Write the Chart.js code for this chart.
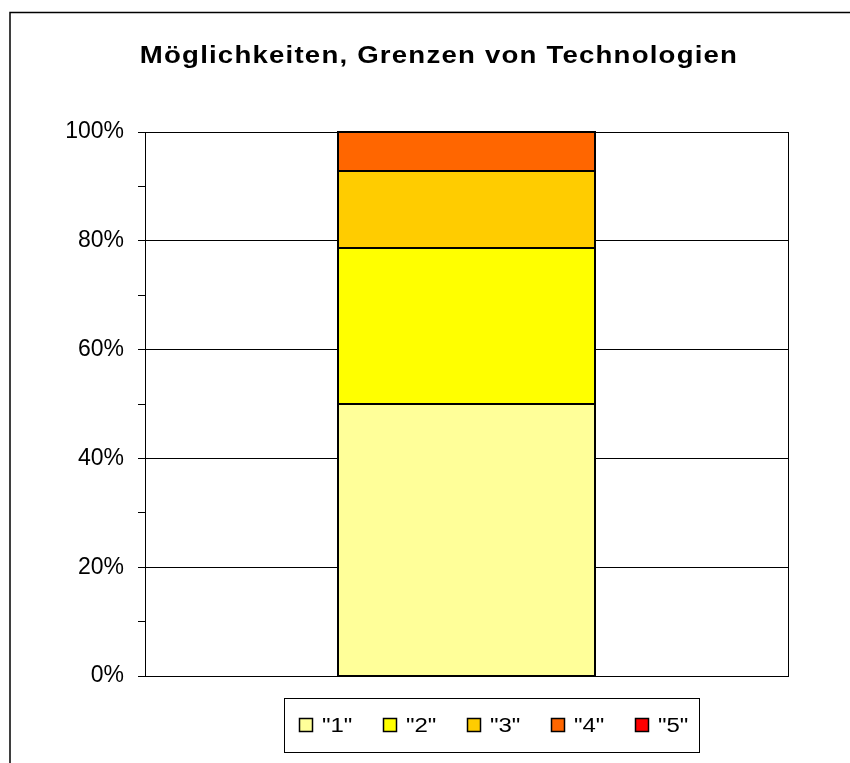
<!DOCTYPE html>
<html>
<head>
<meta charset="utf-8">
<script src="https://cdn.jsdelivr.net/npm/chart.js@4/dist/chart.umd.min.js"></script>
<style>
  html, body { margin: 0; padding: 0; background: #fff; }
  canvas { display: block; }
</style>
</head>
<body>
<canvas id="chart" width="850" height="763"></canvas>
<script>
// === Data ===
const chartTitle = "Möglichkeiten, Grenzen von Technologien";
const categories = [""];
const seriesLabels = ['"1"', '"2"', '"3"', '"4"', '"5"'];
const seriesValues = [50, 28.6, 14.3, 7.1, 0];   // percent share of the single bar
const seriesColors = ["#FFFF99", "#FFFF00", "#FFCC00", "#FF6600", "#FF0000"];
const yTicks = [0, 20, 40, 60, 80, 100];

const fontFamily = "'Liberation Sans', Arial, sans-serif";
const stretchX = 1.2;   // the original text is a bit wider than plain Arial

// draws text slightly widened around its anchor point
function wideText(ctx, text, x, y, align) {
    ctx.save();
    ctx.translate(x, y);
    ctx.scale(stretchX, 1);
    ctx.textAlign = align;
    ctx.fillText(text, 0, 0);
    ctx.restore();
}

// crisp black outlines on the stacked segments (snapped to whole pixels)
const outlinePlugin = {
    id: "outline",
    afterDatasetsDraw(chart) {
        const ctx = chart.ctx;
        ctx.save();
        ctx.strokeStyle = "#000";
        ctx.lineWidth = 2;
        chart.data.datasets.forEach((ds, i) => {
            chart.getDatasetMeta(i).data.forEach(bar => {
                if (Math.abs(bar.base - bar.y) < 0.5) return;
                const l = Math.round(bar.x - bar.width / 2);
                const r = Math.round(bar.x + bar.width / 2);
                const t = Math.round(bar.y);
                const b = Math.round(bar.base);
                ctx.strokeRect(l, t, r - l, b - t);
            });
        });
        ctx.restore();
    }
};

// outer frame, plot border, title and boxed legend
const decorPlugin = {
    id: "decor",
    beforeDraw(chart) {
        const ctx = chart.ctx;
        ctx.save();
        ctx.fillStyle = "#fff";
        ctx.fillRect(0, 0, chart.width, chart.height);
        ctx.strokeStyle = "#000";
        ctx.lineWidth = 1.5;
        ctx.strokeRect(10, 12.5, chart.width + 20, chart.height + 20);
        ctx.restore();
    },
    afterDraw(chart) {
        const ctx = chart.ctx;
        const a = chart.chartArea;
        ctx.save();
        ctx.strokeStyle = "#000";
        ctx.lineWidth = 1;
        ctx.strokeRect(Math.round(a.left) + 0.5, Math.round(a.top) + 0.5,
            Math.round(a.right - a.left), Math.round(a.bottom - a.top));

        // title
        ctx.fillStyle = "#000";
        ctx.font = "bold 23px " + fontFamily;
        ctx.letterSpacing = "1px";
        ctx.textBaseline = "alphabetic";
        wideText(ctx, chartTitle, 439, 63, "center");
        ctx.letterSpacing = "0px";

        // legend
        ctx.lineWidth = 1;
        ctx.strokeRect(284.5, 698.5, 415, 54);
        ctx.font = "20px " + fontFamily;
        seriesLabels.forEach((lab, i) => {
            const x = 299 + i * 84;
            ctx.fillStyle = seriesColors[i];
            ctx.fillRect(x, 718, 14, 14);
            ctx.strokeStyle = "#000";
            ctx.lineWidth = 1.5;
            ctx.strokeRect(x + 0.5, 718.5, 13, 13);
            ctx.fillStyle = "#000";
            wideText(ctx, lab, x + 23, 732, "left");
        });
        ctx.restore();
    }
};

const datasets = seriesLabels.map((lab, i) => ({
    label: lab,
    data: [seriesValues[i]],
    backgroundColor: seriesColors[i],
    borderWidth: 0,
    barPercentage: 0.4,
    categoryPercentage: 1.0
}));

new Chart(document.getElementById("chart"), {
    type: "bar",
    data: { labels: categories, datasets: datasets },
    plugins: [decorPlugin, outlinePlugin],
    options: {
        responsive: false,
        animation: false,
        layout: { padding: { left: 10, top: 132, right: 62, bottom: 87 } },
        scales: {
            x: { stacked: true, display: false },
            y: {
                stacked: true,
                min: 0,
                max: 100,
                afterFit: scale => { scale.width = 135; },
                ticks: {
                    stepSize: 10,
                    autoSkip: false,
                    padding: 14,
                    color: "#000",
                    font: { family: fontFamily, size: 23 },
                    callback: v => yTicks.includes(v) ? v + "%" : ""
                },
                grid: {
                    color: c => (c.tick && yTicks.includes(c.tick.value)) ? "#000" : "rgba(0,0,0,0)",
                    tickColor: "#000",
                    tickLength: 7,
                    lineWidth: 1
                },
                border: { display: true, color: "#000", width: 1 }
            }
        },
        plugins: {
            legend: { display: false },
            title: { display: false },
            tooltip: { enabled: false }
        }
    }
});
</script>
</body>
</html>
